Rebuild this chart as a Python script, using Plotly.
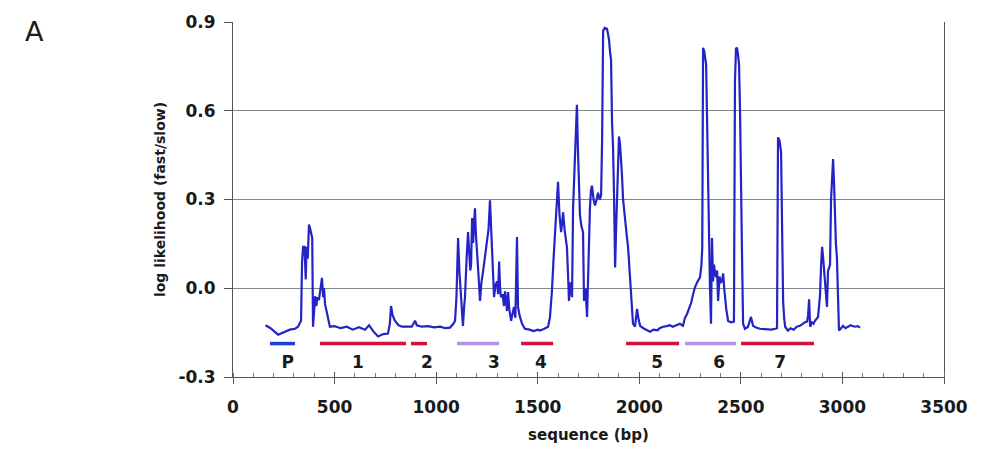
import plotly.graph_objects as go

# ---- data ----
seq_bp = [160, 185, 222, 250, 280, 305, 320, 335, 340, 345, 352, 358, 362, 368, 374, 380, 386, 390, 394, 400,
          404, 410, 416, 423, 430, 438, 444, 448, 453, 463, 470, 477, 500, 530, 560, 590, 620, 650, 670, 690,
          714, 740, 763, 772, 778, 785, 797, 815, 832, 860, 880, 896, 905, 930, 960, 990, 1020, 1045, 1068, 1085,
          1093, 1100, 1108, 1115, 1122, 1132, 1138, 1142, 1150, 1157, 1163, 1168, 1172, 1177, 1182, 1187, 1191, 1196, 1201, 1208,
          1216, 1223, 1231, 1240, 1250, 1258, 1265, 1270, 1275, 1280, 1285, 1292, 1300, 1305, 1310, 1315, 1319, 1327, 1334, 1339,
          1344, 1349, 1354, 1360, 1369, 1376, 1383, 1390, 1398, 1403, 1410, 1423, 1437, 1460, 1480, 1500, 1511, 1530, 1551, 1560,
          1570, 1578, 1585, 1592, 1600, 1607, 1615, 1620, 1625, 1632, 1638, 1644, 1649, 1654, 1660, 1669, 1674, 1680, 1686, 1693,
          1698, 1703, 1708, 1715, 1723, 1728, 1735, 1743, 1750, 1757, 1762, 1767, 1775, 1782, 1790, 1797, 1805, 1812, 1817, 1822,
          1830, 1841, 1846, 1851, 1856, 1861, 1866, 1871, 1876, 1881, 1886, 1890, 1895, 1900, 1905, 1910, 1915, 1920, 1925, 1930,
          1938, 1945, 1952, 1959, 1964, 1969, 1979, 1984, 1989, 1995, 2004, 2020, 2035, 2053, 2070, 2090, 2100, 2117, 2135, 2150,
          2165, 2180, 2200, 2215, 2225, 2235, 2245, 2255, 2265, 2274, 2285, 2299, 2306, 2310, 2314, 2320, 2329, 2334, 2338, 2343,
          2348, 2353, 2358, 2363, 2368, 2373, 2378, 2383, 2388, 2395, 2400, 2407, 2413, 2418, 2422, 2428, 2437, 2450, 2466, 2471,
          2476, 2481, 2486, 2491, 2496, 2501, 2506, 2511, 2520, 2535, 2545, 2550, 2560, 2575, 2594, 2620, 2650, 2670, 2678, 2683,
          2690, 2698, 2703, 2708, 2713, 2718, 2732, 2745, 2760, 2775, 2791, 2805, 2815, 2826, 2831, 2836, 2841, 2850, 2858, 2865,
          2880, 2885, 2890, 2895, 2900, 2905, 2910, 2914, 2919, 2924, 2929, 2934, 2939, 2944, 2949, 2954, 2959, 2964, 2968, 2973,
          2978, 2983, 2993, 3003, 3015, 3028, 3040, 3047, 3060, 3075, 3087]

log_lik = [-0.125, -0.135, -0.157, -0.148, -0.14, -0.137, -0.13, -0.11, 0.09, 0.14, 0.14, 0.03, 0.14, 0.1, 0.215, 0.2, 0.18, 0.17, -0.13, -0.06,
           -0.027, -0.06, -0.03, -0.04, 0.0, 0.035, -0.03, 0.0, -0.053, -0.087, -0.11, -0.13, -0.128, -0.135, -0.13, -0.14, -0.132, -0.14, -0.125, -0.145,
           -0.163, -0.155, -0.153, -0.12, -0.06, -0.09, -0.11, -0.125, -0.13, -0.13, -0.13, -0.11, -0.125, -0.13, -0.128, -0.132, -0.13, -0.135, -0.133, -0.12,
           -0.11, -0.03, 0.17, 0.05, -0.03, -0.127, -0.06, -0.03, 0.1, 0.19, 0.12, 0.06, 0.08, 0.237, 0.153, 0.22, 0.27, 0.18, 0.103, 0.05,
           -0.043, 0.02, 0.057, 0.1, 0.157, 0.2, 0.297, 0.2, 0.103, 0.04, -0.03, 0.01, 0.023, -0.02, 0.09, 0.0, -0.03, -0.02, -0.06, -0.01,
           -0.04, -0.077, -0.013, -0.07, -0.11, -0.08, -0.063, -0.1, 0.173, -0.063, -0.09, -0.12, -0.137, -0.14, -0.145, -0.14, -0.143, -0.138, -0.13, -0.1,
           -0.01, 0.1, 0.19, 0.28, 0.36, 0.25, 0.19, 0.22, 0.257, 0.2, 0.16, 0.137, 0.05, -0.043, 0.02, -0.03, 0.27, 0.4, 0.5, 0.62,
           0.47, 0.35, 0.247, 0.21, 0.19, -0.043, 0.0, -0.097, 0.1, 0.27, 0.33, 0.347, 0.3, 0.28, 0.3, 0.323, 0.3, 0.313, 0.503, 0.87,
           0.88, 0.877, 0.86, 0.84, 0.8, 0.773, 0.56, 0.473, 0.3, 0.07, 0.2, 0.29, 0.4, 0.513, 0.49, 0.447, 0.38, 0.303, 0.26, 0.223,
           0.18, 0.137, 0.07, 0.003, -0.07, -0.12, -0.13, -0.1, -0.07, -0.1, -0.127, -0.135, -0.14, -0.147, -0.14, -0.142, -0.135, -0.13, -0.128, -0.125,
           -0.13, -0.125, -0.12, -0.127, -0.1, -0.087, -0.07, -0.05, -0.02, 0.003, 0.02, 0.037, 0.08, 0.137, 0.813, 0.8, 0.757, 0.547, 0.35, 0.137,
           0.0, -0.12, 0.17, 0.023, 0.08, 0.05, 0.037, 0.06, -0.043, 0.04, 0.02, 0.023, 0.05, 0.0, -0.043, -0.07, -0.11, -0.115, -0.113, 0.7,
           0.81, 0.813, 0.79, 0.757, 0.6, 0.413, 0.1, -0.12, -0.137, -0.13, -0.11, -0.097, -0.127, -0.133, -0.137, -0.138, -0.14, -0.137, -0.135, 0.51,
           0.5, 0.46, 0.2, -0.043, -0.1, -0.13, -0.143, -0.135, -0.14, -0.13, -0.127, -0.12, -0.115, -0.113, -0.09, -0.037, -0.13, -0.115, -0.12, -0.11,
           -0.097, -0.06, -0.02, 0.08, 0.14, 0.103, 0.05, 0.013, -0.03, -0.063, 0.057, 0.07, 0.08, 0.3, 0.38, 0.437, 0.35, 0.223, 0.15, 0.103,
           0.0, -0.143, -0.135, -0.127, -0.135, -0.13, -0.125, -0.127, -0.13, -0.128, -0.133]

seg_labels = ["P", "1", "2", "3", "4", "5", "6", "7"]
seg_start = [182, 428, 876, 1103, 1418, 1935, 2225, 2501]
seg_end = [305, 852, 955, 1310, 1576, 2196, 2476, 2860]
seg_label_x = [270, 615, 955, 1285, 1516, 2088, 2393, 2693]
seg_colors = ["#1c3fd6", "#d3123c", "#d3123c", "#b592e8", "#d3123c", "#d3123c", "#b592e8", "#d3123c"]
seg_y = -0.187
label_y = -0.254

x_ticks = [0, 500, 1000, 1500, 2000, 2500, 3000, 3500]
y_ticks = [-0.3, 0.0, 0.3, 0.6, 0.9]
y_ticktext = ["-0.3", "0.0", "0.3", "0.6", "0.9"]

FONT = "DejaVu Sans"

fig = go.Figure()
fig.add_trace(go.Scatter(x=seq_bp, y=log_lik, mode="lines",
                         line=dict(color="#2323c6", width=2.2), showlegend=False))

for s, e, c in zip(seg_start, seg_end, seg_colors):
    fig.add_trace(go.Scatter(x=[s, e], y=[seg_y, seg_y], mode="lines",
                             line=dict(color=c, width=3.5), showlegend=False))

fig.add_trace(go.Scatter(x=seg_label_x, y=[label_y] * len(seg_labels), mode="text",
                         text=seg_labels,
                         textfont=dict(family=FONT, size=17, color="#1a1a1a", weight="bold"),
                         showlegend=False))

# invisible overlay axis to draw the upper half of the major x ticks
fig.add_trace(go.Scatter(x=[0, 3500], y=[None, None], xaxis="x2", showlegend=False))

fig.update_layout(
    width=994, height=459,
    margin=dict(l=233, r=50, t=16, b=82),
    paper_bgcolor="white", plot_bgcolor="white",
    xaxis=dict(range=[0, 3500], tickvals=x_ticks, ticks="outside", ticklen=6,
               tickcolor="#555", showline=True, linecolor="#555", linewidth=1,
               showgrid=False, zeroline=False, ticklabelstandoff=9,
               tickfont=dict(family=FONT, size=17, color="#1a1a1a", weight="bold"),
               minor=dict(dtick=100, ticks="inside", ticklen=4, tickcolor="#777"),
               title=dict(text="<b>sequence (bp)</b>", standoff=13,
                          font=dict(family=FONT, size=15, color="#1a1a1a"))),
    xaxis2=dict(range=[0, 3500], overlaying="x", anchor="y", side="bottom",
                tickvals=x_ticks, ticks="inside", ticklen=5, tickcolor="#555",
                showticklabels=False, showgrid=False, zeroline=False, showline=False),
    yaxis=dict(range=[-0.3, 0.9], tickvals=y_ticks, ticktext=y_ticktext,
               ticks="outside", ticklen=8, tickcolor="#555",
               showline=True, linecolor="#555", linewidth=1, mirror=True,
               showgrid=True, gridcolor="#7f8888", gridwidth=1, zeroline=False,
               ticklabelstandoff=5,
               tickfont=dict(family=FONT, size=17, color="#1a1a1a", weight="bold"),
               title=dict(text="<b>log likelihood (fast/slow)</b>", standoff=9,
                          font=dict(family=FONT, size=14, color="#1a1a1a"))),
)
fig.add_annotation(text="A", xref="paper", yref="paper", x=-210 / 711, y=1 + 8 / 361,
                   xanchor="left", yanchor="top", showarrow=False,
                   font=dict(family=FONT, size=27, color="#1a1a1a"))

fig.write_html("out.html")
